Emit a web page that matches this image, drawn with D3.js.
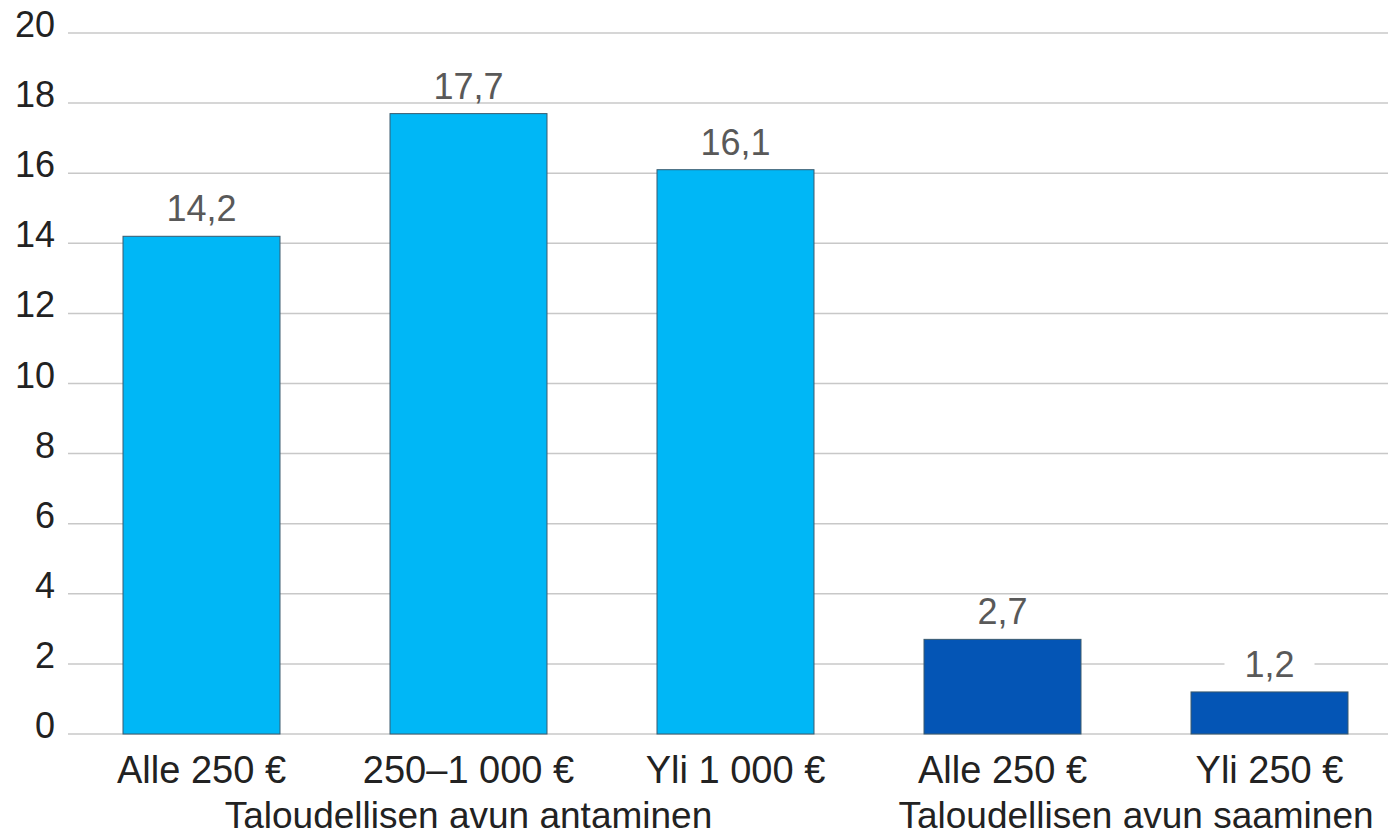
<!DOCTYPE html>
<meta charset="utf-8">
<style>
body { margin: 0; background: #fff; }
svg { display: block; font-family: "Liberation Sans", Arial, sans-serif; }
.grid line { stroke: #c8c8c8; stroke-width: 1.5px; }
.bar { stroke: #3a5a6e; stroke-width: 1px; }
</style>
<body>
<script src="https://d3js.org/d3.v7.min.js"></script>
<script>

var categories = ["a1", "a2", "a3", "s1", "s2"];
var labels = ["Alle 250 €", "250–1 000 €", "Yli 1 000 €", "Alle 250 €", "Yli 250 €"];
var values = [14.2, 17.7, 16.1, 2.7, 1.2];
var groups = ["antaminen", "antaminen", "antaminen", "saaminen", "saaminen"];
var groupNames = {antaminen: "Taloudellisen avun antaminen", saaminen: "Taloudellisen avun saaminen"};
var yTicks = [0, 2, 4, 6, 8, 10, 12, 14, 16, 18, 20];

var width = 1388, height = 837;
var margin = {left: 68, right: 1403, top: 33, bottom: 734};

var svg = d3.select("body").append("svg")
    .attr("width", width)
    .attr("height", height);

var x = d3.scaleBand()
    .domain(categories)
    .range([margin.left, margin.right])
    .paddingInner(0.412)
    .paddingOuter(0.206);

var y = d3.scaleLinear()
    .domain([0, 20])
    .range([margin.bottom, margin.top]);

var color = d3.scaleOrdinal()
    .domain(["antaminen", "saaminen"])
    .range(["#00b7f6", "#0455b5"]);

// gridlines
svg.append("g")
    .attr("class", "grid")
  .selectAll("line")
  .data(yTicks)
  .enter().append("line")
    .attr("x1", margin.left)
    .attr("x2", width)
    .attr("y1", function(d) { return y(d); })
    .attr("y2", function(d) { return y(d); });

// y axis labels
var yAxis = d3.axisLeft(y).tickValues(yTicks).tickSize(0).tickPadding(13);
svg.append("g")
    .attr("transform", "translate(" + margin.left + ",0)")
    .call(yAxis)
    .call(function(g) { g.select(".domain").remove(); })
    .selectAll("text")
      .attr("y", -8)
      .attr("fill", "#222")
      .style("font-size", "36px")
      .style("font-family", "Liberation Sans, Arial, sans-serif");

// bars
svg.append("g")
  .selectAll("rect")
  .data(values)
  .enter().append("rect")
    .attr("class", "bar")
    .attr("x", function(d, i) { return x(categories[i]); })
    .attr("width", x.bandwidth())
    .attr("y", function(d) { return y(d); })
    .attr("height", function(d) { return y(0) - y(d); })
    .attr("fill", function(d, i) { return color(groups[i]); });

// value labels (with white backing over gridlines)
var vl = svg.append("g")
  .selectAll("g")
  .data(values)
  .enter().append("g")
    .attr("transform", function(d, i) {
      return "translate(" + (x(categories[i]) + x.bandwidth() / 2) + "," + (y(d) - 15) + ")";
    });

vl.append("rect")
    .attr("x", -45)
    .attr("y", -27)
    .attr("width", 90)
    .attr("height", 30)
    .attr("fill", "#fff");

vl.append("text")
    .attr("text-anchor", "middle")
    .attr("fill", "#595959")
    .style("font-size", "36px")
    .text(function(d) { return String(d).replace(".", ","); });

// category labels
var xAxis = d3.axisBottom(x).tickSize(0).tickPadding(22)
    .tickFormat(function(d, i) { return labels[i]; });
svg.append("g")
    .attr("transform", "translate(0," + margin.bottom + ")")
    .call(xAxis)
    .call(function(g) { g.select(".domain").remove(); })
    .selectAll("text")
      .attr("fill", "#222")
      .style("font-size", "38px")
      .style("font-family", "Liberation Sans, Arial, sans-serif");

// group labels
var groupKeys = ["antaminen", "saaminen"];
svg.append("g")
  .selectAll("text")
  .data(groupKeys)
  .enter().append("text")
    .attr("x", function(g) {
      var idx = [];
      groups.forEach(function(v, i) { if (v === g) idx.push(i); });
      var a = x(categories[idx[0]]), b = x(categories[idx[idx.length - 1]]) + x.bandwidth();
      return (a + b) / 2;
    })
    .attr("y", 828)
    .attr("text-anchor", "middle")
    .attr("fill", "#222")
    .style("font-size", "37px")
    .text(function(g) { return groupNames[g]; });

</script>
</body>
